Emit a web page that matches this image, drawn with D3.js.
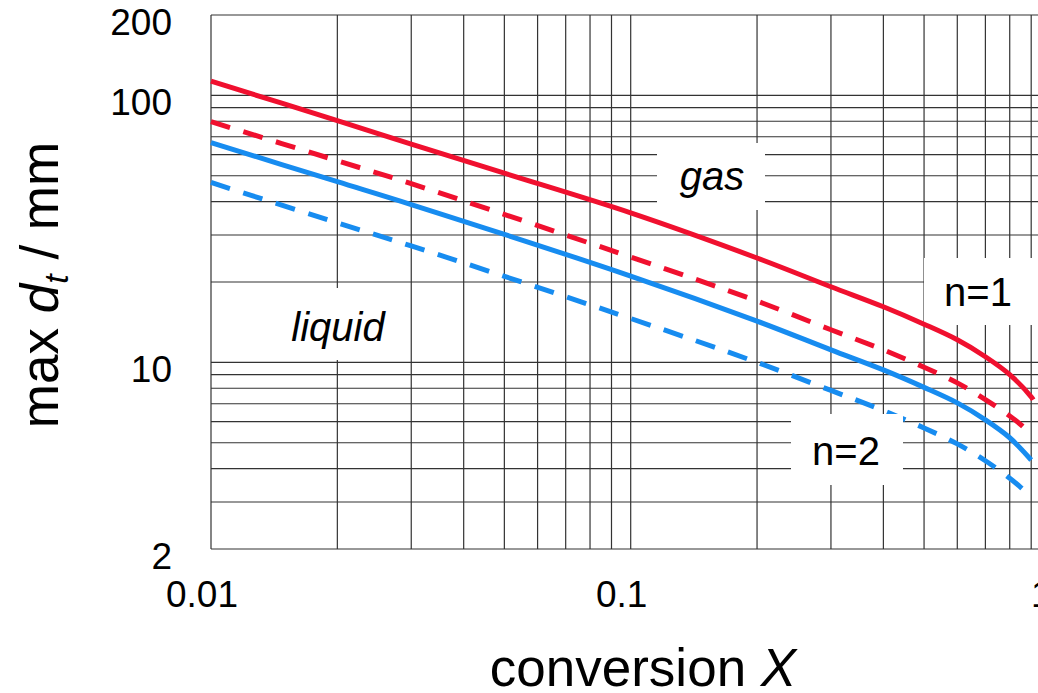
<!DOCTYPE html>
<html>
<head>
<meta charset="utf-8">
<script src="https://cdn.jsdelivr.net/npm/d3@7/dist/d3.min.js"></script>
<style>
  html, body { margin: 0; padding: 0; background: #fff; }
  svg { display: block; font-family: "Liberation Sans", Arial, sans-serif; }
</style>
</head>
<body>
<svg id="chart" width="1038" height="693"></svg>
<script>
// ---- data ----
const xTickValues = [0.01, 0.1, 1];
const xTickLabels = ["0.01", "0.1", "1"];
const yTickValues = [2, 10, 100, 200];
const yTickLabels = ["2", "10", "100", "200"];

// gas, n=1 (red solid)
const gasN1X = [0.01, 0.02, 0.03, 0.05, 0.1, 0.2, 0.3, 0.4, 0.5, 0.6, 0.7, 0.8, 0.9, 0.91];
const gasN1Y = [113, 80.5, 65.7, 51.1, 36.3, 24.6, 19.2, 16.15, 13.9, 12.15, 10.5, 9.0, 7.43, 7.25];
// liquid, n=1 (red dashed)
const liqN1X = [0.01, 0.02, 0.03, 0.1, 0.2, 0.3, 0.4, 0.5, 0.6, 0.7, 0.8, 0.86, 0.89];
const liqN1Y = [79.7, 56.9, 46.7, 24.8, 16.97, 13.25, 11.14, 9.59, 8.38, 7.25, 6.3, 5.75, 5.44];
// gas, n=2 (blue solid)
const gasN2X = [0.01, 0.02, 0.03, 0.1, 0.2, 0.3, 0.4, 0.5, 0.6, 0.7, 0.8, 0.9];
const gasN2Y = [66.5, 47.5, 39.0, 21.05, 14.27, 11.14, 9.37, 8.06, 7.05, 6.09, 5.22, 4.31];
// liquid, n=2 (blue dashed)
const liqN2X = [0.01, 0.02, 0.03, 0.1, 0.2, 0.3, 0.4, 0.5, 0.6, 0.7, 0.8, 0.855, 0.89];
const liqN2Y = [47.2, 33.3, 27.3, 14.6, 10.0, 7.85, 6.6, 5.68, 4.95, 4.28, 3.68, 3.375, 3.19];

const series = [
  { xs: gasN1X, ys: gasN1Y, color: "#f0102f", dash: null },
  { xs: liqN1X, ys: liqN1Y, color: "#f0102f", dash: "20,14" },
  { xs: gasN2X, ys: gasN2Y, color: "#178cf0", dash: null },
  { xs: liqN2X, ys: liqN2Y, color: "#178cf0", dash: "20,14" }
];

// ---- scales ----
const svg = d3.select("#chart");
const x = d3.scaleLog().domain([0.01, 1]).range([211, 1050.4]);
const y = d3.scaleLog().domain([2, 200]).range([549, 15]);

// ---- grid ----
const grid = svg.append("g").attr("stroke", "#333").attr("stroke-width", 1.2);
grid.selectAll("line.v").data(x.ticks()).join("line")
  .attr("x1", d => x(d)).attr("x2", d => x(d))
  .attr("y1", y(200)).attr("y2", y(2));
grid.selectAll("line.h").data(y.ticks()).join("line")
  .attr("x1", x(0.01)).attr("x2", x(1))
  .attr("y1", d => y(d)).attr("y2", d => y(d));

// ---- label boxes (under / over curves) ----
const labels = [
  { text: "gas", italic: true, box: [657, 143, 108, 67], tx: 712, ty: 190, over: false },
  { text: "liquid", italic: true, box: [272, 288, 130, 72], tx: 338, ty: 341, over: false },
  { text: "n=1", italic: false, box: [924, 258, 120, 67], tx: 978, ty: 306, over: false },
  { text: "n=2", italic: false, box: [791, 414, 112, 71], tx: 846, ty: 465, over: true }
];
const underG = svg.append("g");
const curveG = svg.append("g");
const overG = svg.append("g");
labels.forEach(l => {
  const g = l.over ? overG : underG;
  g.append("rect").attr("x", l.box[0]).attr("y", l.box[1])
    .attr("width", l.box[2]).attr("height", l.box[3]).attr("fill", "#fff");
  g.append("text").attr("x", l.tx).attr("y", l.ty)
    .attr("text-anchor", "middle").attr("font-size", 40)
    .attr("font-style", l.italic ? "italic" : "normal")
    .text(l.text);
});

// ---- curves ----
const line = d3.line().x(d => x(d[0])).y(d => y(d[1])).curve(d3.curveCatmullRom.alpha(0.5));
series.forEach(s => {
  curveG.append("path")
    .datum(s.xs.map((v, i) => [v, s.ys[i]]))
    .attr("d", line)
    .attr("fill", "none")
    .attr("stroke", s.color)
    .attr("stroke-width", 5)
    .attr("stroke-dasharray", s.dash);
});

// ---- tick labels ----
svg.selectAll("text.xt").data(xTickValues).join("text")
  .attr("x", d => x(d) - 9).attr("y", 607)
  .attr("text-anchor", "middle").attr("font-size", 37)
  .text((d, i) => xTickLabels[i]);
svg.selectAll("text.yt").data(yTickValues).join("text")
  .attr("x", 172).attr("y", d => y(d) + 20)
  .attr("text-anchor", "end").attr("font-size", 37)
  .text((d, i) => yTickLabels[i]);

// ---- axis titles ----
svg.append("text").attr("x", 643).attr("y", 686)
  .attr("text-anchor", "middle").attr("font-size", 53)
  .call(t => {
    t.append("tspan").text("conversion ");
    t.append("tspan").attr("font-style", "italic").text("X");
  });
const yt = svg.append("text")
  .attr("transform", "translate(58,285) rotate(-90)")
  .attr("text-anchor", "middle").attr("font-size", 53);
yt.append("tspan").text("max ");
yt.append("tspan").attr("font-style", "italic").text("d");
yt.append("tspan").attr("font-style", "italic").attr("font-size", 34).attr("dy", 10).text("t");
yt.append("tspan").attr("dy", -10).text(" / mm");
</script>
</body>
</html>
